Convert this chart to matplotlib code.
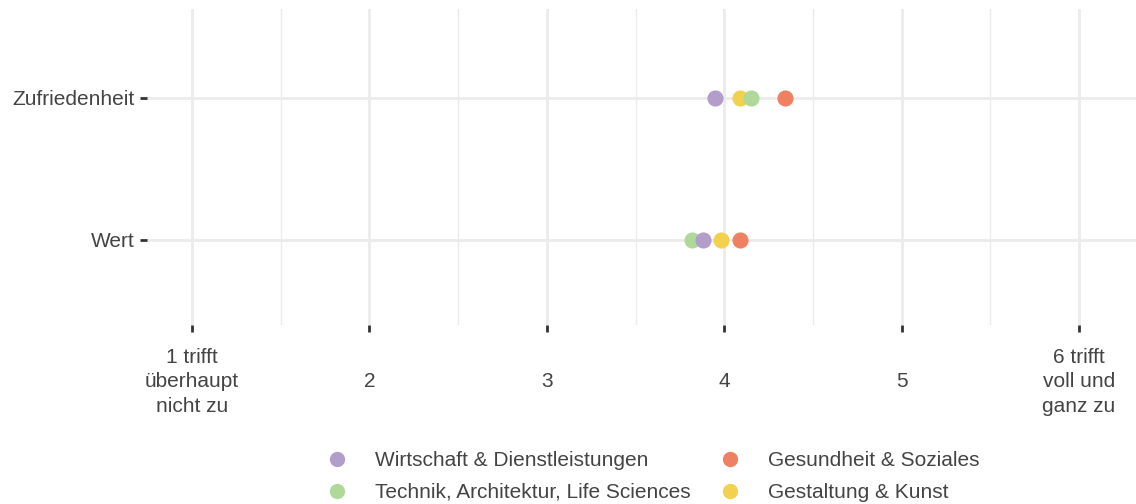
#!/usr/bin/env python3
# Dot plot: mean agreement per faculty for "Zufriedenheit" and "Wert" (scale 1-6).

import numpy as np
import matplotlib
matplotlib.use('Agg')
import matplotlib.pyplot as plt
from matplotlib.lines import Line2D

# ── DATA ─────────────────────────────────────────────────
ITEMS = ['Wert', 'Zufriedenheit']          # bottom -> top
GROUPS = ['Gestaltung & Kunst',
          'Technik, Architektur, Life Sciences',
          'Wirtschaft & Dienstleistungen',
          'Gesundheit & Soziales']         # draw order
VALUES = {
    'Gestaltung & Kunst':                  [3.98, 4.09],
    'Technik, Architektur, Life Sciences': [3.82, 4.15],
    'Wirtschaft & Dienstleistungen':       [3.88, 3.95],
    'Gesundheit & Soziales':               [4.09, 4.34],
}
COLORS = {
    'Wirtschaft & Dienstleistungen':       '#B39DCB',
    'Gesundheit & Soziales':               '#EF8163',
    'Technik, Architektur, Life Sciences': '#B1D89B',
    'Gestaltung & Kunst':                  '#F2D14E',
}
LEGEND_ORDER = ['Wirtschaft & Dienstleistungen',
                'Technik, Architektur, Life Sciences',
                'Gesundheit & Soziales',
                'Gestaltung & Kunst']
X_TICKS = [1, 2, 3, 4, 5, 6]
X_LABELS = ['1 trifft\nüberhaupt\nnicht zu', '2', '3', '4', '5',
            '6 trifft\nvoll und\nganz zu']
# ─────────────────────────────────────────────────────────

plt.rcParams['font.family'] = ['Liberation Sans', 'DejaVu Sans']
TXT = '#444444'
GRID = '#EBEBEB'

fig = plt.figure(figsize=(11.36, 5.04), dpi=100)
ax = fig.add_axes([147 / 1136, 179 / 504, 989 / 1136, 316 / 504])

y_pos = np.arange(len(ITEMS))
for g in GROUPS:
    ax.scatter(VALUES[g], y_pos, s=135, color=COLORS[g], linewidths=0, zorder=3)

ax.set_xlim(0.746, 6.321)
ax.set_ylim(-0.6, 1.625)

ax.set_xticks(X_TICKS)
ax.set_xticklabels(X_LABELS, fontsize=15, color=TXT, va='center', linespacing=1.38)
ax.set_xticks(np.arange(1.5, 6.5, 1.0), minor=True)
ax.set_yticks(y_pos)
ax.set_yticklabels(ITEMS, fontsize=15, color=TXT)

ax.tick_params(axis='x', which='major', length=5, width=2, color='#333333', pad=36)
ax.tick_params(axis='y', which='major', length=5, width=2, color='#333333', pad=4)
ax.tick_params(axis='x', which='minor', length=0)

ax.grid(True, which='major', color=GRID, linewidth=2)
ax.grid(True, which='minor', axis='x', color=GRID, linewidth=1)
ax.set_axisbelow(True)
for s in ax.spines.values():
    s.set_visible(False)

handles = [Line2D([], [], marker='o', linestyle='', markersize=11,
                  markerfacecolor=COLORS[g], markeredgewidth=0) for g in LEGEND_ORDER]
fig.legend(handles, LEGEND_ORDER, ncol=2, loc='upper left',
           bbox_to_anchor=(327 / 1136, 1 - 451 / 504), frameon=False,
           fontsize=15, labelcolor=TXT, handlelength=1.0, handletextpad=1.3,
           columnspacing=1.4, labelspacing=0.62, borderpad=0, borderaxespad=0)

fig.savefig('out.png', dpi=100)
plt.close(fig)
